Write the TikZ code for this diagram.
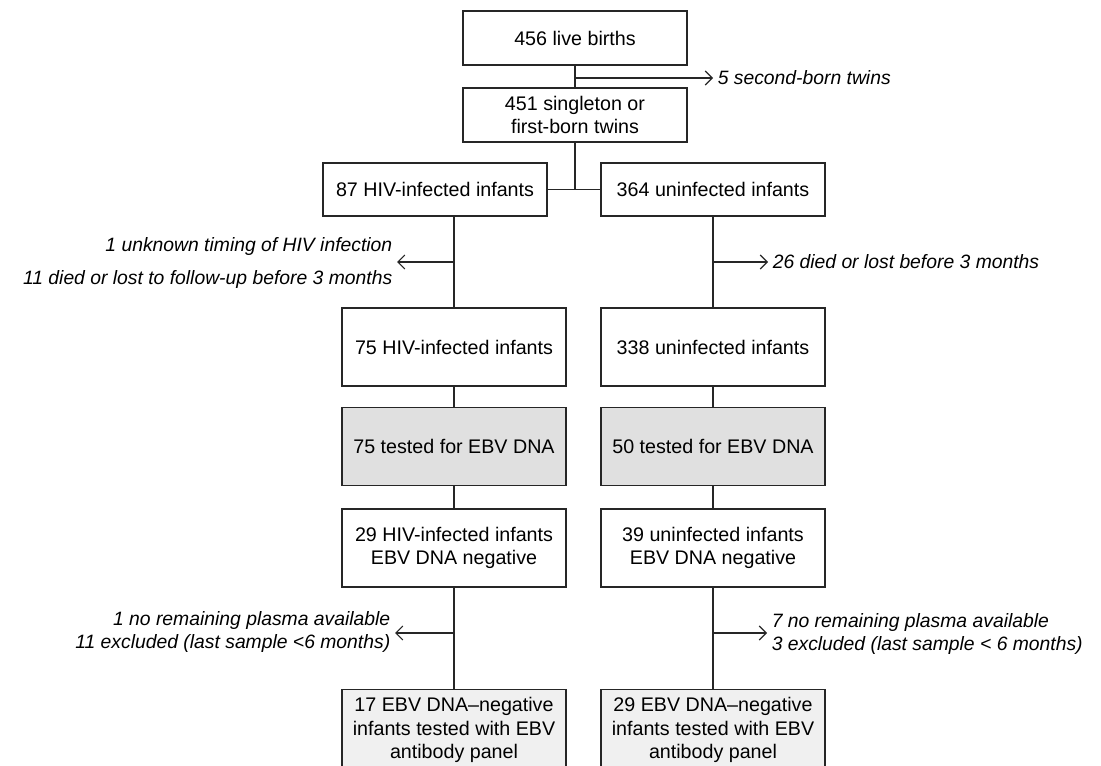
\documentclass[tikz,border=0pt]{standalone}
\usepackage{fontspec}
\setmainfont{Liberation Sans}
\usetikzlibrary{arrows.meta}

\begin{document}
\begin{tikzpicture}[x=0.02cm,y=-0.02cm]
		% Styles
		\tikzstyle{lien}=[-,line width=0.65pt,draw=black!85]
		\tikzstyle{fleche}=[-{Straight Barb[length=4pt,width=8pt]},line width=0.65pt,draw=black!85]
		\tikzstyle{boite}=[draw=black!85,line width=0.65pt,fill=white,align=center,minimum width=4.48cm,inner sep=0pt,font=\fontsize{11.2}{13.4}\selectfont]
		\tikzstyle{test}=[boite,fill=black!12]
		\tikzstyle{panel}=[boite,fill=black!6]
		\tikzstyle{exclu}=[font=\fontsize{11}{13.4}\selectfont\itshape,inner sep=2.5pt]
		% Dimensions
		\def\ColM{575}
		\def\ColG{454}
		\def\ColD{713}
		\def\HautA{1.08cm}
		\def\HautB{1.56cm}
		% Cadre
		\useasboundingbox (0,0) rectangle (1101,766);
		\clip (0,0) rectangle (1101,766);
		% Noeuds
		\node[boite,minimum height=\HautA] (Nv) at (\ColM,38) {456 live births};
		\node[boite,minimum height=\HautA] (Sg) at (\ColM,115) {451 singleton or\\first-born twins};
		\node[boite,minimum height=1.06cm] (Hv) at (435,189.5) {87 HIV-infected infants};
		\node[boite,minimum height=1.06cm] (Un) at (\ColD,189.5) {364 uninfected infants};
		\node[boite,minimum height=\HautB] (H75) at (\ColG,347) {75 HIV-infected infants};
		\node[boite,minimum height=\HautB] (U338) at (\ColD,347) {338 uninfected infants};
		\node[test,minimum height=\HautB] (Ht) at (\ColG,446.5) {75 tested for EBV DNA};
		\node[test,minimum height=\HautB] (Ut) at (\ColD,446.5) {50 tested for EBV DNA};
		\node[boite,minimum height=\HautB] (H29) at (\ColG,548) {29 HIV-infected infants\\EBV DNA negative};
		\node[boite,minimum height=\HautB] (U29) at (\ColD,548) {39 uninfected infants\\EBV DNA negative};
		\node[panel,minimum height=1.62cm,anchor=north] (Hb) at (\ColG,689) {17 EBV DNA--negative\\infants tested with EBV\\antibody panel};
		\node[panel,minimum height=1.62cm,anchor=north] (Ub) at (\ColD,689) {29 EBV DNA--negative\\infants tested with EBV\\antibody panel};
		
		\node[exclu,anchor=west] (Tw) at (713,78) {5 second-born twins};
		\node[exclu,anchor=east,align=right] (Eh) at (397,263) {1 unknown timing of HIV infection\\[5pt]11 died or lost to follow-up before 3 months};
		\node[exclu,anchor=west] (Eu) at (768,262) {26 died or lost before 3 months};
		\node[exclu,anchor=east,align=right] (Ep) at (395,632) {1 no remaining plasma available\\11 excluded (last sample <6 months)};
		\node[exclu,anchor=west,align=left] (Eq) at (767,634) {7 no remaining plasma available\\3 excluded (last sample < 6 months)};
		
		\coordinate (b1) at (\ColM,78);
		\coordinate (b2) at (\ColG,262);
		\coordinate (b3) at (\ColD,262);
		\coordinate (b4) at (\ColG,633);
		\coordinate (b5) at (\ColD,633);
		
		% Arcs
		\draw[lien] (Nv) -- (Sg);
		\draw[fleche] (b1) -- (Tw);
		\draw[lien] (Sg) -- (Sg.south |- Hv.east);
		\draw[lien] (Hv) -- (Un);
		\draw[lien] (H75.north |- Hv.south) -- (H75);
		\draw[fleche] (b2) -- (b2 -| Eh.east);
		\draw[lien] (Un) -- (U338);
		\draw[fleche] (b3) -- (b3 -| Eu.west);
		\draw[lien] (H75) -- (Ht);
		\draw[lien] (Ht) -- (H29);
		\draw[lien] (H29) -- (Hb);
		\draw[fleche] (b4) -- (b4 -| Ep.east);
		\draw[lien] (U338) -- (Ut);
		\draw[lien] (Ut) -- (U29);
		\draw[lien] (U29) -- (Ub);
		\draw[fleche] (b5) -- (b5 -| Eq.west);
		
		
	\end{tikzpicture}
\end{document}
